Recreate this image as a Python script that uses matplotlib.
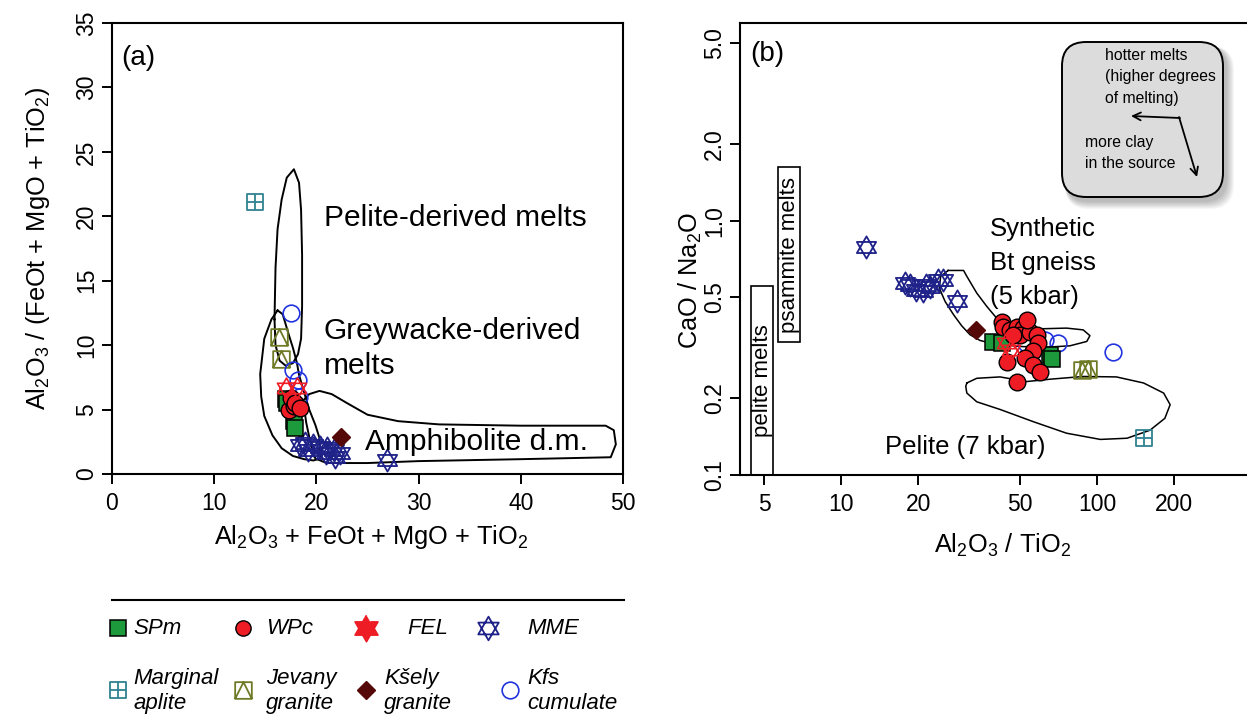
import numpy as np
import matplotlib
matplotlib.use("Agg")
import matplotlib.pyplot as plt
from matplotlib.path import Path
from matplotlib.patches import Rectangle, FancyBboxPatch

plt.rcParams['font.family'] = ['Liberation Sans', 'DejaVu Sans']
plt.rcParams['mathtext.fontset'] = 'custom'
plt.rcParams['mathtext.rm'] = 'Liberation Sans'
plt.rcParams['mathtext.it'] = 'Liberation Sans:italic'

W, H = 1247, 715

# ---- panel (a): Al2O3+FeOt+MgO+TiO2 vs Al2O3/(FeOt+MgO+TiO2) ----
a_spm_x = [17.0, 17.1, 17.8, 17.9]
a_spm_y = [5.8, 5.5, 4.1, 3.6]
a_wpc_x = [17.3, 17.5, 17.8, 17.9, 18.4]
a_wpc_y = [5.0, 5.9, 5.3, 5.5, 5.1]
a_fel_x = [17.0, 18.1]
a_fel_y = [6.7, 6.7]
a_mme_x = [18.4, 18.9, 19.7, 20.4, 21.0, 21.7, 22.3, 21.8, 19.2, 20.9, 26.9]
a_mme_y = [2.25, 2.4, 2.25, 2.1, 2.0, 1.86, 1.6, 1.35, 1.9, 1.6, 1.1]
a_apl_x = [14.0]
a_apl_y = [21.1]
a_jev_x = [16.3, 16.5]
a_jev_y = [10.65, 8.9]
a_ksely_x = [22.4]
a_ksely_y = [2.9]
a_kfs_x = [17.5, 17.7, 18.2, 18.3]
a_kfs_y = [12.5, 8.1, 7.3, 6.0]

# melt fields (outlines)
pelite_x = [15.9, 16.0, 16.2, 16.6, 17.1, 17.8, 18.3, 18.5, 18.6, 18.6, 18.5, 18.2, 17.7, 17.0, 16.4, 16.0, 15.9]
pelite_y = [12.0, 16.0, 19.0, 21.3, 23.0, 23.65, 22.6, 20.5, 17.0, 13.0, 10.5, 9.3, 8.6, 8.4, 8.8, 10.0, 12.0]
greyw_x = [16.2, 15.6, 14.9, 14.5, 14.6, 14.9, 15.7, 16.6, 17.7, 18.8, 19.7, 20.4, 20.3, 19.9, 19.3, 18.7, 18.3, 18.1, 17.7, 17.3, 16.7, 16.2]
greyw_y = [12.7, 12.0, 10.5, 7.75, 6.0, 4.5, 3.0, 2.0, 1.4, 1.15, 1.05, 1.2, 2.8, 3.8, 5.0, 6.6, 7.7, 8.6, 9.8, 10.8, 12.4, 12.7]
amph_x = [18.7, 19.3, 20.3, 21.5, 23.0, 25.0, 28.0, 32.0, 40.0, 48.3, 49.1, 49.3, 48.8, 40.0, 30.0, 25.0, 21.0, 19.9, 19.4, 19.0, 18.7]
amph_y = [5.7, 6.2, 6.45, 6.2, 5.5, 4.6, 4.1, 3.85, 3.75, 3.75, 3.4, 2.3, 1.3, 1.15, 1.0, 0.85, 0.85, 1.2, 2.5, 4.0, 5.7]

# ---- panel (b): Al2O3/TiO2 vs CaO/Na2O ----
b_spm_x = [39.3, 42.4, 65.5, 66.5]
b_spm_y = [0.332, 0.33, 0.297, 0.285]
b_wpc_x = [42.4, 43.1, 45.7, 48.5, 51.5, 50.0, 54.7, 58.1, 58.9, 56.3, 52.3, 56.3, 59.8, 44.4, 48.5, 47.1, 53.1]
b_wpc_y = [0.401, 0.383, 0.372, 0.383, 0.378, 0.356, 0.366, 0.356, 0.330, 0.306, 0.288, 0.271, 0.255, 0.279, 0.233, 0.356, 0.407]
b_fel_x = [44.0, 46.0]
b_fel_y = [0.33, 0.31]
b_mme_x = [12.5, 17.8, 18.6, 19.7, 20.9, 21.5, 22.2, 24.0, 25.1, 28.3]
b_mme_y = [0.79, 0.57, 0.56, 0.535, 0.53, 0.56, 0.55, 0.585, 0.585, 0.481]
b_kfs_x = [53.0, 62.6, 70.6, 115.0]
b_kfs_y = [0.33, 0.34, 0.33, 0.304]
b_jev_x = [87.1, 92.5]
b_jev_y = [0.259, 0.26]
b_ksely_x = [33.7]
b_ksely_y = [0.372]
b_apl_x = [153.0]
b_apl_y = [0.1395]

gneiss_x = [26.2, 30.1, 31.0, 33.9, 37.1, 40.5, 45.7, 56.4, 76.0, 88.3, 93.8, 91.2, 78.3, 63.5, 50.0, 39.4, 34.9, 31.9, 29.6, 27.5, 25.5, 24.2, 24.5, 26.2]
gneiss_y = [0.637, 0.637, 0.604, 0.519, 0.460, 0.414, 0.390, 0.375, 0.378, 0.372, 0.353, 0.335, 0.322, 0.318, 0.320, 0.328, 0.338, 0.356, 0.386, 0.427, 0.481, 0.543, 0.604, 0.637]
pel7_x = [31.0, 33.9, 41.8, 53.1, 65.5, 88.3, 119.0, 152.0, 182.0, 193.0, 184.0, 161.0, 131.0, 103.0, 76.0, 56.4, 41.8, 33.9, 31.0, 30.7, 31.0]
pel7_y = [0.230, 0.240, 0.243, 0.233, 0.238, 0.244, 0.243, 0.230, 0.210, 0.189, 0.167, 0.150, 0.1395, 0.138, 0.146, 0.162, 0.181, 0.194, 0.210, 0.223, 0.230]

a_xticks = [0, 10, 20, 30, 40, 50]
a_yticks = [0, 5, 10, 15, 20, 25, 30, 35]
b_xticks = [5, 10, 20, 50, 100, 200]
b_yticks = [0.1, 0.2, 0.5, 1.0, 2.0, 5.0]
b_yticklabels = ['0.1', '0.2', '0.5', '1.0', '2.0', '5.0']

legend_names = ['SPm', 'WPc', 'FEL', 'MME',
                'Marginal\naplite', 'Jevany\ngranite', 'Kšely\ngranite', 'Kfs\ncumulate']

# custom marker shapes
M, L, C = Path.MOVETO, Path.LINETO, Path.CLOSEPOLY
STAR = Path([(0, 1), (-0.866, -0.5), (0.866, -0.5), (0, 1),
             (0, -1), (-0.866, 0.5), (0.866, 0.5), (0, -1)],
            [M, L, L, C, M, L, L, C])
# solid hexagram (outline only) for the filled legend symbol
ang = np.deg2rad(90 + 30 * np.arange(12))
rad = np.where(np.arange(12) % 2 == 0, 1.0, 1 / np.sqrt(3))
HEXA = Path(np.column_stack([rad * np.cos(ang), rad * np.sin(ang)]), closed=False)
SQ_TRI = Path([(-1, -1), (1, -1), (1, 1), (-1, 1), (-1, -1),
               (-1, -1), (0, 1), (1, -1)],
              [M, L, L, L, C, M, L, L])
SQ_CROSS = Path([(-1, -1), (1, -1), (1, 1), (-1, 1), (-1, -1),
                 (0, -1), (0, 1), (-1, 0), (1, 0)],
                [M, L, L, L, C, M, L, M, L])

GREEN = '#1c9a3c'
RED = '#ee1c24'
NAVY = '#1f2288'
BLUE = '#2233e0'
TEAL = '#2f8290'
OLIVE = '#6f7a26'
MAROON = '#550808'

styles = {
    'spm': dict(marker='s', ms=12, mfc=GREEN, mec='black', mew=1.1),
    'wpc': dict(marker='o', ms=12, mfc=RED, mec='black', mew=1.0),
    'fel': dict(marker=STAR, ms=15, mfc='none', mec=RED, mew=1.2),
    'mme': dict(marker=STAR, ms=16, mfc='none', mec=NAVY, mew=1.3),
    'apl': dict(marker=SQ_CROSS, ms=12, mfc='none', mec=TEAL, mew=1.3),
    'jev': dict(marker=SQ_TRI, ms=12, mfc='none', mec=OLIVE, mew=1.3),
    'ksely': dict(marker='D', ms=9.5, mfc=MAROON, mec=MAROON, mew=1.0),
    'kfs': dict(marker='o', ms=12, mfc='none', mec=BLUE, mew=1.2),
}

fig = plt.figure(figsize=(W / 100, H / 100), dpi=100)


def frac(l, t, r, b):
    return [l / W, 1 - b / H, (r - l) / W, (b - t) / H]


def style_axes(ax):
    for s in ax.spines.values():
        s.set_linewidth(1.5)
    ax.tick_params(direction='out', length=7, width=1.4, labelsize=16.5, pad=6)
    ax.tick_params(axis='y', pad=3)
    for lab in ax.get_yticklabels():
        lab.set_rotation(90)
        lab.set_va('center')


def scatter_all(ax, d):
    ax.plot(d['mme'][0], d['mme'][1], ls='none', zorder=3, **styles['mme'])
    ax.plot(d['jev'][0], d['jev'][1], ls='none', zorder=3, **styles['jev'])
    ax.plot(d['kfs'][0], d['kfs'][1], ls='none', zorder=3, **styles['kfs'])
    ax.plot(d['spm'][0], d['spm'][1], ls='none', zorder=4, **styles['spm'])
    ax.plot(d['wpc'][0], d['wpc'][1], ls='none', zorder=4, **styles['wpc'])
    ax.plot(d['fel'][0], d['fel'][1], ls='none', zorder=5, **styles['fel'])
    ax.plot(d['ksely'][0], d['ksely'][1], ls='none', zorder=5, **styles['ksely'])
    ax.plot(d['apl'][0], d['apl'][1], ls='none', zorder=5, **styles['apl'])


# panel (a)
ax1 = fig.add_axes(frac(112, 23, 623, 474))
ax1.set_xlim(0, 50)
ax1.set_ylim(0, 35)
ax1.set_xticks(a_xticks)
ax1.set_yticks(a_yticks)
style_axes(ax1)
for fx, fy in [(pelite_x, pelite_y), (greyw_x, greyw_y), (amph_x, amph_y)]:
    ax1.plot(fx, fy, color='black', lw=1.4, zorder=2)
scatter_all(ax1, {'spm': (a_spm_x, a_spm_y), 'wpc': (a_wpc_x, a_wpc_y),
                  'fel': (a_fel_x, a_fel_y), 'mme': (a_mme_x, a_mme_y),
                  'apl': (a_apl_x, a_apl_y), 'jev': (a_jev_x, a_jev_y),
                  'ksely': (a_ksely_x, a_ksely_y), 'kfs': (a_kfs_x, a_kfs_y)})
ax1.text(0.95, 32.3, '(a)', fontsize=20, ha='left', va='center')
ax1.text(20.7, 19.9, 'Pelite-derived melts', fontsize=21.5, ha='left', va='center')
ax1.text(20.7, 11.1, 'Greywacke-derived', fontsize=21.5, ha='left', va='center')
ax1.text(20.7, 8.4, 'melts', fontsize=21.5, ha='left', va='center')
ax1.text(24.8, 2.5, 'Amphibolite d.m.', fontsize=21.5, ha='left', va='center')
fig.text(371 / W, 1 - 537 / H, r'Al$_2$O$_3$ + FeOt + MgO + TiO$_2$',
         fontsize=18.3, ha='center', va='center')
fig.text(38 / W, 1 - 248 / H, r'Al$_2$O$_3$ / (FeOt + MgO + TiO$_2$)',
         fontsize=18.3, ha='center', va='center', rotation=90)

# panel (b), log-log
ax2 = fig.add_axes(frac(740, 22.7, 1265, 475))
ax2.set_xscale('log')
ax2.set_yscale('log')
ax2.set_xlim(4.03, 453)
ax2.set_ylim(0.1, 6.0)
ax2.set_xticks(b_xticks)
ax2.set_xticklabels([str(v) for v in b_xticks])
ax2.set_yticks(b_yticks)
ax2.set_yticklabels(b_yticklabels)
ax2.minorticks_off()
style_axes(ax2)
ax2.plot(gneiss_x, gneiss_y, color='black', lw=1.1, zorder=2)
ax2.plot(pel7_x, pel7_y, color='black', lw=1.1, zorder=2)
scatter_all(ax2, {'spm': (b_spm_x, b_spm_y), 'wpc': (b_wpc_x, b_wpc_y),
                  'fel': (b_fel_x, b_fel_y), 'mme': (b_mme_x, b_mme_y),
                  'apl': (b_apl_x, b_apl_y), 'jev': (b_jev_x, b_jev_y),
                  'ksely': (b_ksely_x, b_ksely_y), 'kfs': (b_kfs_x, b_kfs_y)})

# source melt ranges drawn as labelled boxes
ax2.add_patch(Rectangle((4.44, 0.09), 5.44 - 4.44, 0.551 - 0.09,
                        fill=False, ec='black', lw=1.2, zorder=2))
ax2.text(np.sqrt(4.44 * 5.44), np.sqrt(0.1 * 0.551), 'pelite melts', fontsize=16,
         rotation=90, ha='center', va='center')
ax2.add_patch(Rectangle((5.69, 0.332), 6.91 - 5.69, 1.62 - 0.332,
                        fill=False, ec='black', lw=1.2, zorder=2))
ax2.text(np.sqrt(5.69 * 6.91), np.sqrt(0.332 * 1.62), 'psammite melts', fontsize=16,
         rotation=90, ha='center', va='center')

ax2.text(4.41, 4.5, '(b)', fontsize=20, ha='left', va='center')
ax2.text(38.2, 0.931, 'Synthetic', fontsize=18.5, ha='left', va='center')
ax2.text(38.2, 0.684, 'Bt gneiss', fontsize=18.5, ha='left', va='center')
ax2.text(38.2, 0.503, '(5 kbar)', fontsize=18.5, ha='left', va='center')
ax2.text(14.85, 0.129, 'Pelite (7 kbar)', fontsize=18.5, ha='left', va='center')
fig.text(1003 / W, 1 - 545 / H, r'Al$_2$O$_3$ / TiO$_2$',
         fontsize=18.3, ha='center', va='center')
fig.text(690 / W, 1 - 280 / H, r'CaO / Na$_2$O',
         fontsize=18.3, ha='center', va='center', rotation=90)

# overlay in pixel units for the inset note and the legend
ov = fig.add_axes([0, 0, 1, 1])
ov.set_xlim(0, W)
ov.set_ylim(H, 0)
ov.axis('off')
ov.set_zorder(10)

bx0, by0, bx1, by1 = 1062, 42, 1223, 197
for k in range(8, 0, -1):
    ov.add_patch(FancyBboxPatch((bx0 + 3, by0 + 4), bx1 - bx0 + k, by1 - by0 + k,
                                boxstyle='round,pad=0,rounding_size=24',
                                fc='#000000', ec='none', alpha=0.035))
ov.add_patch(FancyBboxPatch((bx0, by0), bx1 - bx0, by1 - by0,
                            boxstyle='round,pad=0,rounding_size=24',
                            fc='#dcdcdc', ec='black', lw=1.4))
note_kw = dict(fontsize=11.3, ha='left', va='center')
ov.text(1105, 55, 'hotter melts', **note_kw)
ov.text(1105, 77, '(higher degrees', **note_kw)
ov.text(1105, 98, 'of melting)', **note_kw)
ov.text(1085, 142, 'more clay', **note_kw)
ov.text(1085, 164, 'in the source', **note_kw)
ov.annotate('', xy=(1131, 116), xytext=(1180, 118),
            arrowprops=dict(arrowstyle='->', lw=1.3, color='black', shrinkA=0, shrinkB=0,
                            mutation_scale=14))
ov.annotate('', xy=(1197, 177), xytext=(1179, 117),
            arrowprops=dict(arrowstyle='->', lw=1.3, color='black', shrinkA=0, shrinkB=0,
                            mutation_scale=14))

# legend
ov.plot([112, 624], [600, 600], color='black', lw=1.5)
leg_styles = [dict(styles['spm']), dict(styles['wpc']),
              dict(styles['fel'], marker=HEXA, mfc=RED, ms=19), dict(styles['mme'], ms=17),
              dict(styles['apl']), dict(styles['jev']),
              dict(styles['ksely']), dict(styles['kfs'])]
leg_styles[1]['ms'] = 11
mark_x = [118, 243, 366, 488, 118, 243, 366, 510]
text_x = [133, 266, 407, 527, 133, 266, 384, 527]
for i, name in enumerate(legend_names):
    yy = 628 if i < 4 else 690
    ov.plot([mark_x[i]], [yy], ls='none', **leg_styles[i])
    ty = yy if i < 4 else 691
    ov.text(text_x[i], ty, name, fontsize=16, style='italic', ha='left', va='center',
            linespacing=1.2)

fig.savefig('out.png', dpi=100)
